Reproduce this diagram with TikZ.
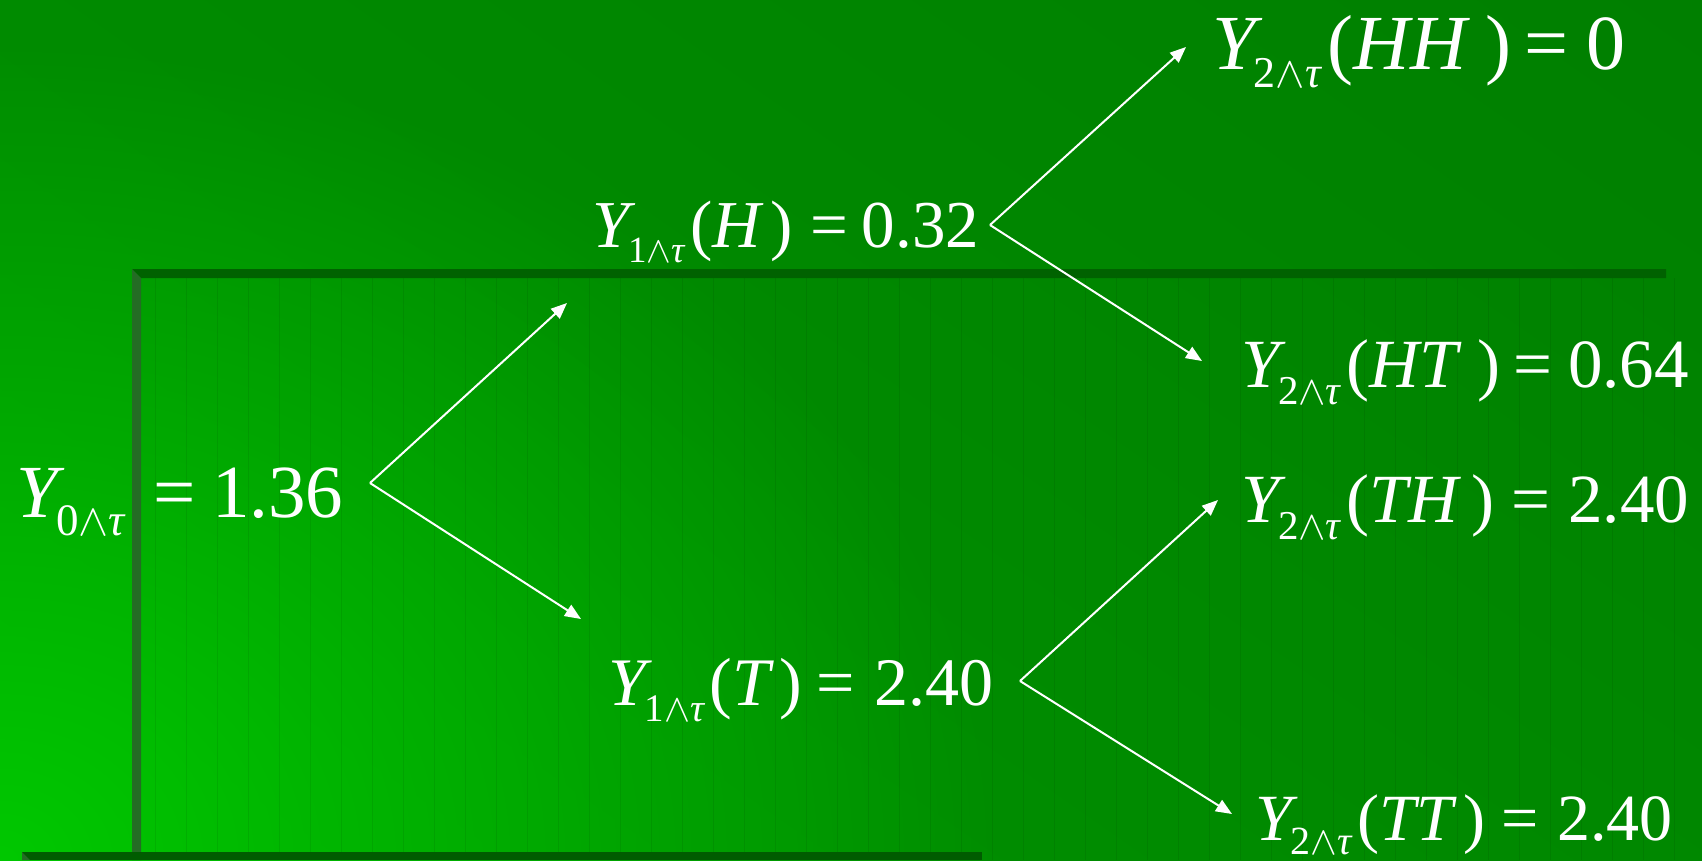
\RequirePackage{fix-cm}
\documentclass[tikz,border=0pt]{standalone}
\usepackage{fontspec}
\setmainfont{Liberation Serif}
\usetikzlibrary{arrows.meta,fadings}
\definecolor{barTop}{RGB}{0,98,0}
\definecolor{barLeft}{RGB}{36,108,36}
\definecolor{barBot}{RGB}{0,92,0}
\definecolor{glow}{RGB}{0,200,0}
\pgfdeclarehorizontalshading{bgshade}{100bp}{rgb(0bp)=(0,0.59,0); rgb(40bp)=(0,0.55,0); rgb(100bp)=(0,0.48,0)}
\tikzfading[name=glowfade, inner color=transparent!0, outer color=transparent!100]
% #1 sub size, #2 sub digit, #3 drop
\newcommand\Yy[3]{\textit{Y}\kern-0.11em\raisebox{-#3}{\fontsize{#1}{#1}\selectfont #2$\wedge$\textit{τ}}\kern0.07em}
% #1 arg, #2 gap before ), #3 gap before =, #4 gap after =
\newcommand\Yarg[4]{(\textit{#1}\hspace{#2})\hspace{#3}=\hspace{#4}}
\tikzset{
  txt/.style={anchor=base west, inner sep=0pt, text=white},
  arr/.style={draw=white, line width=2pt, -{Triangle[length=16pt,width=13pt]}},
}
\begin{document}
\begin{tikzpicture}[x=1pt,y=-1pt]
\useasboundingbox (0,0) rectangle (1702,860);
% background
\begin{scope}
\clip (0,0) rectangle (1702,860);
\shade[shading=bgshade, shading angle=55] (0,0) rectangle (1702,860);
\fill[glow, path fading=glowfade] (0,860) ellipse (1000 and 820);
\end{scope}
% panel grid texture
\begin{scope}
\clip (141,278) rectangle (1702,860);
\draw[black, opacity=0.07, line width=1pt, step=31] (141,278) grid (1702,860);
\end{scope}
% panel bars
\fill[barTop] (132,269) -- (1666,269) -- (1666,278) -- (141,278) -- cycle;
\fill[barLeft] (132,269) -- (141,278) -- (141,860) -- (132,860) -- cycle;
\fill[barBot] (22,852) -- (982,852) -- (982,860) -- (22,860) -- cycle;
\fill[barLeft] (22,852) -- (30,860) -- (22,860) -- cycle;
% nodes
\node[txt, font=\fontsize{75}{75}\selectfont] (n0) at (16,517) {\Yy{45}{0}{18pt}\kern-0.07em\hspace{0.36em}=\hspace{0.22em}1.36};
\node[txt, font=\fontsize{67}{67}\selectfont] (nH) at (592,247) {\Yy{37}{1}{15pt}\Yarg{H}{0.095em}{0.26em}{0.21em}0.32};
\node[txt, font=\fontsize{68}{68}\selectfont] (nT) at (608,705) {\Yy{39}{1}{16pt}\Yarg{T}{0.08em}{0.2em}{0.3em}2.40};
\node[txt, font=\fontsize{78}{78}\selectfont] (nHH) at (1212,69) {\Yy{44}{2}{18pt}\Yarg{HH}{0.2em}{0.16em}{0.24em}0};
\node[txt, font=\fontsize{69}{69}\selectfont] (nHT) at (1241,387) {\Yy{41}{2}{17pt}\Yarg{HT}{0.23em}{0.19em}{0.22em}0.64};
\node[txt, font=\fontsize{69}{69}\selectfont] (nTH) at (1241,522) {\Yy{41}{2}{17pt}\Yarg{TH}{0.15em}{0.25em}{0.26em}2.40};
\node[txt, font=\fontsize{66}{66}\selectfont] (nTT) at (1255,840) {\Yy{40}{2}{14pt}\Yarg{TT}{0.11em}{0.23em}{0.29em}2.40};
% connector coordinates
\coordinate (v0) at (370,483);
\coordinate (e0u) at (567,303);
\coordinate (e0d) at (581,619);
\coordinate (vH) at (990,225);
\coordinate (eHu) at (1186,47);
\coordinate (eHd) at (1202,361);
\coordinate (vT) at (1020,681);
\coordinate (eTu) at (1218,500);
\coordinate (eTd) at (1232,814);
\draw[arr] (v0) -- (e0u);
\draw[arr] (v0) -- (e0d);
\draw[arr] (vH) -- (eHu);
\draw[arr] (vH) -- (eHd);
\draw[arr] (vT) -- (eTu);
\draw[arr] (vT) -- (eTd);
\end{tikzpicture}
\end{document}
